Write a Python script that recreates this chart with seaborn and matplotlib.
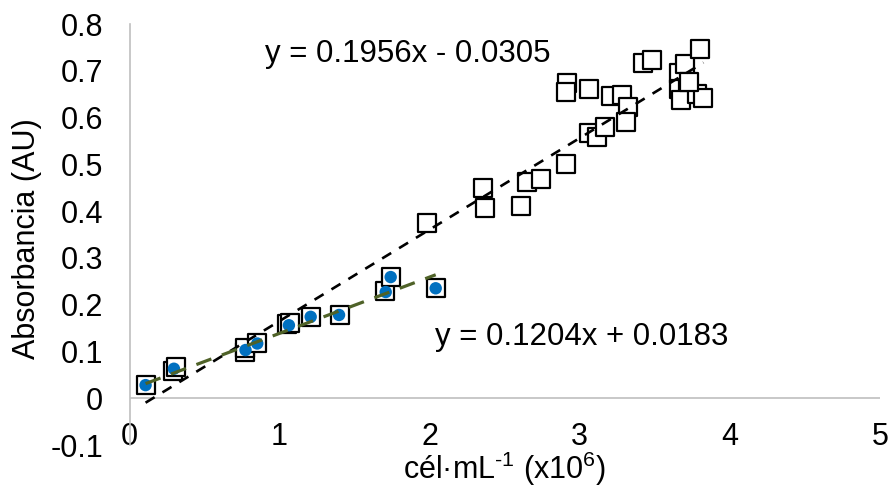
import numpy as np
import pandas as pd
import matplotlib
matplotlib.use("Agg")
import matplotlib.pyplot as plt
import seaborn as sns

# ---- data ----
sq_x = [0.107, 0.29, 0.31, 0.77, 0.77, 0.85, 1.05, 1.07, 1.21, 1.40, 1.70, 1.74, 2.04,
        1.985, 2.358, 2.369, 2.607, 2.647, 2.74, 2.907, 2.918, 2.907, 3.058, 3.062,
        3.113, 3.169, 3.207, 3.278, 3.318, 3.307, 3.418, 3.484, 3.662, 3.70, 3.80,
        3.662, 3.718, 3.673, 3.784, 3.824, 3.73]
sq_y = [0.028, 0.058, 0.066, 0.098, 0.108, 0.117, 0.158, 0.160, 0.174, 0.178, 0.229, 0.259, 0.235,
        0.375, 0.449, 0.406, 0.411, 0.463, 0.468, 0.501, 0.673, 0.655, 0.661, 0.568,
        0.558, 0.580, 0.647, 0.648, 0.623, 0.591, 0.717, 0.723, 0.696, 0.714, 0.746,
        0.662, 0.664, 0.637, 0.650, 0.641, 0.675]
dot_x = [0.107, 0.296, 0.773, 0.851, 1.062, 1.207, 1.396, 1.707, 1.74, 2.04]
dot_y = [0.028, 0.063, 0.103, 0.117, 0.156, 0.174, 0.178, 0.227, 0.259, 0.235]

fit_all = (0.1956, -0.0305)
fit_low = (0.1204, 0.0183)
eq_all = "y = 0.1956x - 0.0305"
eq_low = "y = 0.1204x + 0.0183"
x_ticks = [0, 1, 2, 3, 4, 5]
y_ticks = [-0.1, 0, 0.1, 0.2, 0.3, 0.4, 0.5, 0.6, 0.7, 0.8]
y_tick_labels = ["-0.1", "0", "0.1", "0.2", "0.3", "0.4", "0.5", "0.6", "0.7", "0.8"]

sns.set_theme(style="white")
plt.rcParams["font.family"] = ["Liberation Sans", "DejaVu Sans"]
plt.rcParams["mathtext.fontset"] = "custom"
plt.rcParams["mathtext.rm"] = "Liberation Sans"
plt.rcParams["mathtext.it"] = "Liberation Sans"
plt.rcParams["mathtext.default"] = "regular"
plt.rcParams["text.color"] = "black"
plt.rcParams["axes.labelcolor"] = "black"

FS = 22

fig = plt.figure(figsize=(8.91, 4.87), dpi=100)
ax = fig.add_axes([129.5 / 891, 1 - 445 / 487, (880 - 129.5) / 891, (445 - 24) / 487])

sq_df = pd.DataFrame({"x": sq_x, "y": sq_y})
dot_df = pd.DataFrame({"x": dot_x, "y": dot_y})

sns.scatterplot(data=sq_df, x="x", y="y", marker="s", s=175, facecolor="white",
                edgecolor="black", linewidth=1.6, ax=ax, zorder=2)

xa = np.array([min(sq_x), max(sq_x)])
line_all = pd.DataFrame({"x": xa, "y": fit_all[0] * xa + fit_all[1]})
sns.lineplot(data=line_all, x="x", y="y", color="black", linewidth=1.9, ax=ax,
             zorder=3).lines[-1].set_dashes([4, 3.5])

sns.scatterplot(data=dot_df, x="x", y="y", marker="o", s=80, color="#0070C0",
                edgecolor="none", ax=ax, zorder=4)

xl = np.array([min(dot_x), max(dot_x)])
line_low = pd.DataFrame({"x": xl, "y": fit_low[0] * xl + fit_low[1]})
sns.lineplot(data=line_low, x="x", y="y", color="#4F6228", linewidth=2.3, ax=ax,
             zorder=5).lines[-1].set_dashes([5, 3.5])

ax.axhline(0, color="#bfbfbf", linewidth=1.2, zorder=1)

ax.set_xlim(0, 5)
ax.set_ylim(-0.1, 0.8)
ax.set_xticks(x_ticks)
ax.set_xticklabels([str(t) for t in x_ticks])
ax.set_yticks(y_ticks)
ax.set_yticklabels(y_tick_labels)

for s in ["top", "right", "bottom"]:
    ax.spines[s].set_visible(False)
ax.spines["left"].set_color("#bfbfbf")
ax.spines["left"].set_linewidth(1.2)

ax.tick_params(axis="y", direction="in", length=6.5, width=1.2, color="#bfbfbf",
               labelsize=FS, pad=19, labelcolor="black")
ax.tick_params(axis="x", length=0, labelsize=FS, pad=0, labelcolor="black")
for lab in ax.get_xticklabels():
    lab.set_va("baseline")

ax.set_xlabel("cél·mL$^{\\text{-}1}$ (x10$^{6}$)", fontsize=FS, va="baseline")
ax.xaxis.set_label_coords(0.5, -0.081)
ax.set_ylabel("Absorbancia (AU)", fontsize=FS)
ax.yaxis.set_label_coords(-0.116, 0.49)

ax.text(0.9, 0.719, eq_all, fontsize=22.5, ha="left", va="baseline")
ax.text(2.035, 0.113, eq_low, fontsize=22.5, ha="left", va="baseline")

ax.grid(False)
fig.savefig("out.png", dpi=100)
